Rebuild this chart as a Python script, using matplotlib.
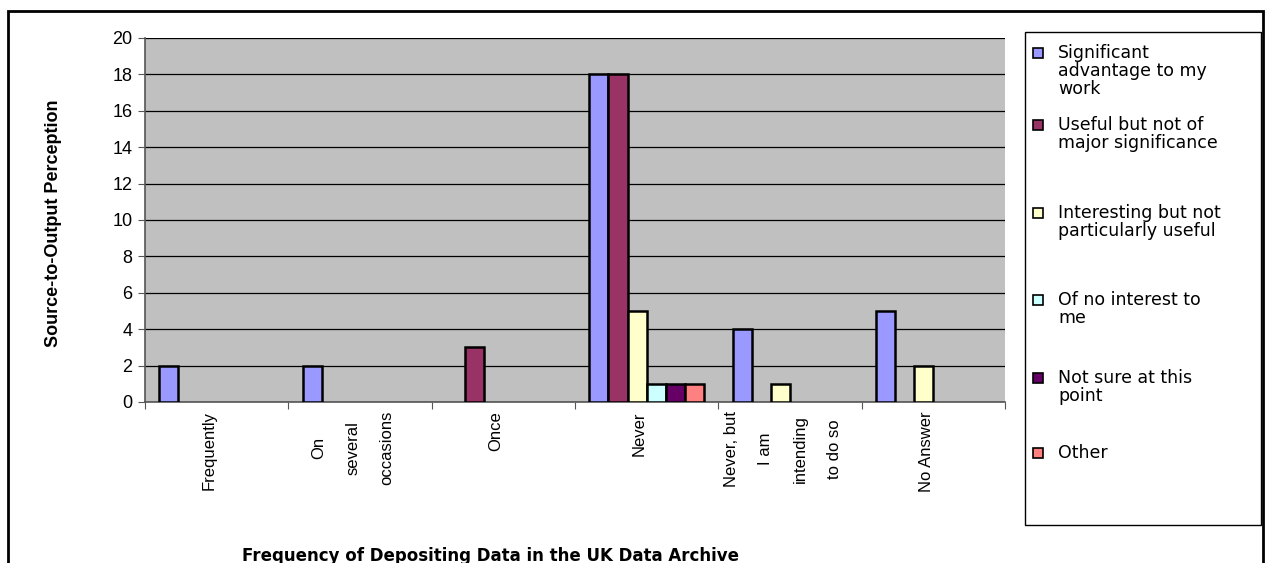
import numpy as np
import matplotlib.pyplot as plt
from matplotlib.patches import Rectangle

categories = ["Frequently", "On\nseveral\noccasions", "Once", "Never",
              "Never, but\nI am\nintending\nto do so", "No Answer"]

series_names = ["Significant\nadvantage to my\nwork",
                "Useful but not of\nmajor significance",
                "Interesting but not\nparticularly useful",
                "Of no interest to\nme",
                "Not sure at this\npoint",
                "Other"]

significant = [2, 2, 0, 18, 4, 5]
useful = [0, 0, 3, 18, 0, 0]
interesting = [0, 0, 0, 5, 1, 2]
no_interest = [0, 0, 0, 1, 0, 0]
not_sure = [0, 0, 0, 1, 0, 0]
other = [0, 0, 0, 1, 0, 0]

colors = ["#9999FF", "#993366", "#FFFFCC", "#CCFFFF", "#660066", "#FF8080"]

W, H = 1265, 563
fig = plt.figure(figsize=(W / 100, H / 100), dpi=100)
ax = fig.add_axes([145 / W, 1 - 402 / H, 860 / W, 364 / H])
ax.set_facecolor("#C0C0C0")

all_series = [significant, useful, interesting, no_interest, not_sure, other]
n = len(all_series)
w = 0.8 / n
x = np.arange(len(categories))

for j, (vals, col) in enumerate(zip(all_series, colors)):
    vals = np.array(vals)
    keep = vals > 0
    ax.bar(x[keep] + (j - (n - 1) / 2) * w, vals[keep], width=w,
           color=col, edgecolor="black", linewidth=1.8, zorder=3)

ax.set_xlim(-0.5, len(categories) - 0.5)
ax.set_ylim(0, 20)
ax.set_yticks(range(0, 21, 2))
ax.yaxis.grid(True, color="black", linewidth=0.9, zorder=1)
ax.set_axisbelow(True)

# category ticks sit between the groups
ax.set_xticks(np.arange(-0.5, len(categories), 1))
ax.set_xticklabels([])
ax.tick_params(axis="x", length=5, color="#555555")
ax.tick_params(axis="y", length=5, color="#555555", labelsize=13, pad=4)
for t in ax.get_yticklabels():
    t.set_family(["Liberation Sans", "DejaVu Sans"])

for sp in ["top", "right"]:
    ax.spines[sp].set_visible(False)
for sp in ["left", "bottom"]:
    ax.spines[sp].set_color("#555555")
    ax.spines[sp].set_linewidth(1.2)

sans = ["Liberation Sans", "DejaVu Sans"]
for i, lab in enumerate(categories):
    ax.text(i - 0.05, -0.5, lab, rotation=90, ha="center", va="top",
            multialignment="center", fontsize=12, family=sans,
            linespacing=2.6)

fig.text(54 / W, 1 - 223 / H, "Source-to-Output Perception", rotation=90,
         ha="center", va="center", fontsize=13, fontweight="bold", family=sans)

fig.text(491 / W, 1 - 556 / H, "Frequency of Depositing Data in the UK Data Archive",
         ha="center", va="center", fontsize=12, fontweight="bold",
         family=["DejaVu Sans"])

# outer chart border and legend box
fig.patches.append(Rectangle((8 / W, -0.2), 1255 / W, 1.2 - 11 / H,
                             transform=fig.transFigure, fill=False,
                             edgecolor="black", linewidth=2))
fig.patches.append(Rectangle((1025 / W, 1 - 525 / H), 236 / W, 493 / H,
                             transform=fig.transFigure, fill=False,
                             edgecolor="black", linewidth=1))

legend_y = [53, 125, 213, 300, 378, 453]
for name, col, yy in zip(series_names, colors, legend_y):
    fig.patches.append(Rectangle((1033 / W, 1 - (yy + 5) / H), 10 / W, 10 / H,
                                 transform=fig.transFigure, facecolor=col,
                                 edgecolor="black", linewidth=1.2))
    fig.text(1058 / W, 1 - (yy - 9) / H, name, ha="left", va="top",
             fontsize=12.5, family=["DejaVu Sans"], linespacing=1.0)

fig.savefig("out.png", dpi=100)
